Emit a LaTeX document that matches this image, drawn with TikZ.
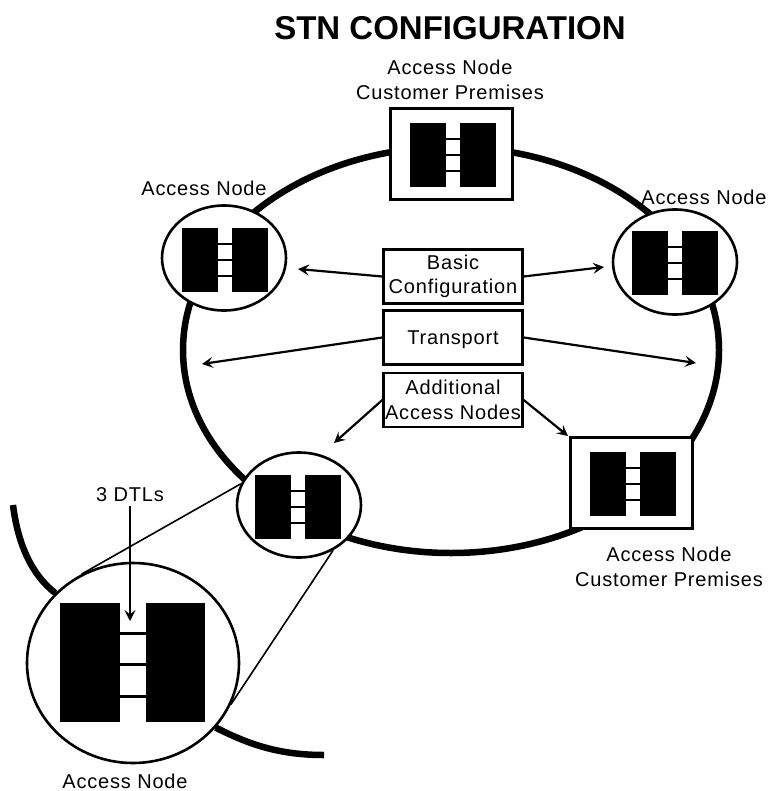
\documentclass[tikz,border=0pt]{standalone}
\usepackage{fontspec}
\setmainfont{Liberation Sans}
\newfontfamily\labelfont[LetterSpace=4]{Liberation Sans}
\usetikzlibrary{arrows.meta,shapes.geometric}

\tikzset{
  ringline/.style = {line width=6.5pt},
  thinline/.style = {line width=1.6pt},
  feed/.style = {line width=2.2pt, -{Stealth[length=11pt,width=11pt,inset=4.5pt]}},
  premises/.style = {draw, fill=white, line width=2.6pt, minimum width=122pt, minimum height=91pt, inner sep=0pt},
  station/.style = {draw, ellipse, fill=white, line width=2.6pt, minimum width=124pt, minimum height=105pt, inner sep=0pt},
  infobox/.style = {draw, fill=white, line width=2.4pt, minimum width=139pt, minimum height=54pt, inner sep=0pt,
    align=center, font=\labelfont\fontsize{20}{24.5}\selectfont,
    execute at begin node={\rule{0pt}{19pt}}},
  caption/.style = {align=center, font=\labelfont\fontsize{20}{24.5}\selectfont},
  pics/duplex/.style = {code = {
    \fill (-43,-32) rectangle (-7,32);
    \fill (7,-32) rectangle (43,32);
    \foreach \ly in {-16,0,16}
      \draw[line width=2pt] (-7,\ly) -- (7,\ly);
  }}
}

\begin{document}
\begin{tikzpicture}[x=1pt, y=-1pt]
  \useasboundingbox (0,0) rectangle (768,791);

  % main ring
  \draw[ringline] (451,350) ellipse [x radius=268, y radius=203];

  \node[font=\bfseries\fontsize{33}{38}\selectfont] (title) at (450,28) {STN CONFIGURATION};

  \node[premises] (topbox) at (451.5,154) {};
  \node[station] (leftnode) at (224,258) {};
  \node[station] (rightnode) at (675,262) {};
  \node[premises] (lowbox) at (631.5,483) {};
  \node[station] (lownode) at (299,505) {};
  \node[station, minimum width=212pt, minimum height=200pt] (bignode) at (133,663) {};

  \pic at (453,155) {duplex};
  \pic at (224.5,260) {duplex};
  \pic at (674.5,263) {duplex};
  \pic at (632.5,484) {duplex};
  \pic at (298,507) {duplex};
  \fill (60,603) rectangle (120,722);
  \fill (146,603) rectangle (205,722);
  \foreach \ly in {633,664,696}
    \draw[line width=3pt] (120,\ly) -- (146,\ly);

  \node[infobox] (basic) at (453,276.5) {Basic\\Configuration};
  \node[infobox] (transport) at (453,337.5) {Transport};
  \node[infobox] (additional) at (453,400) {Additional\\Access Nodes};

  \node[caption] (toplabel) at (450,80) {Access Node\\Customer Premises};
  \node[caption] (leftlabel) at (204,188) {Access Node};
  \node[caption] (rightlabel) at (704,197) {Access Node};
  \node[caption] (lowlabel) at (669,567) {Access Node\\Customer Premises};
  \node[caption] (biglabel) at (125,781) {Access Node};
  \node[caption] (dtllabel) at (130,495) {3 DTLs};

  % arrow ends
  \coordinate (basicl) at (298,269);
  \coordinate (basicr) at (604,267);
  \coordinate (transl) at (202,364);
  \coordinate (transr) at (696,363);
  \coordinate (addl) at (334,443);
  \coordinate (addr) at (568,436);
  \coordinate (dtltip) at (130,621);
  \coordinate (leftend) at (13,505);
  \coordinate (lowend) at (324,755);

  \draw[feed] (basic.west) -- (basicl);
  \draw[feed] (basic.east) -- (basicr);
  \draw[feed] (transport.west) -- (transl);
  \draw[feed] (transport.east) -- (transr);
  \draw[feed] (additional.west) -- (addl);
  \draw[feed] (additional.east) -- (addr);
  \draw[feed] (dtllabel.south) -- (dtltip);

  % zoom lines
  \draw[thinline] (lownode.160) -- (bignode.120);
  \draw[thinline] (lownode.-53) -- (bignode.-23);

  % pieces of ring round the big node
  \draw[ringline] (leftend) .. controls (18,545) and (32,575) .. (bignode.138);
  \draw[ringline] (bignode.-38) .. controls (250,745) and (280,755) .. (lowend);
\end{tikzpicture}
\end{document}
